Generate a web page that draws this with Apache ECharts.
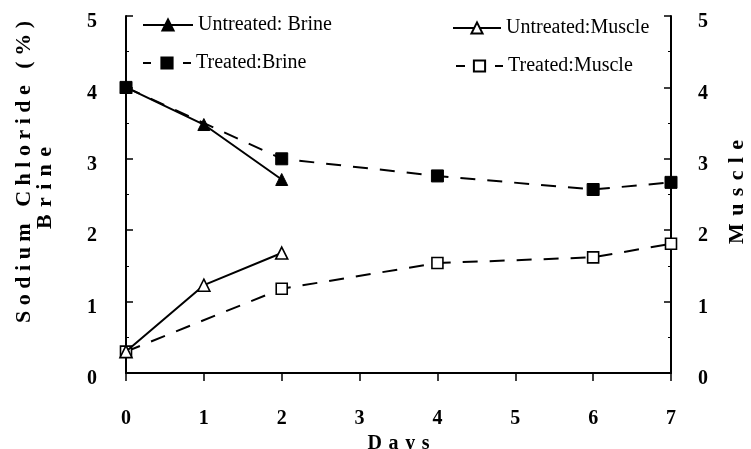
<!DOCTYPE html>
<html>
<head>
<meta charset="utf-8">
<script src="https://cdn.jsdelivr.net/npm/echarts@6/dist/echarts.min.js"></script>
<style>
  html, body { margin: 0; padding: 0; background: #fff; }
  #chart { width: 751px; height: 449px; }
</style>
</head>
<body>
<div id="chart"></div>
<script>
// Sampling days for each treatment
const untreatedDays = [0, 1, 2];
const treatedDays = [0, 2, 4, 6, 7];

// Sodium chloride content (%)
const untreatedBrine = [4.0, 3.48, 2.71];
const untreatedMuscle = [0.3, 1.23, 1.68];
const treatedBrine = [4.0, 3.0, 2.76, 2.57, 2.67];
const treatedMuscle = [0.3, 1.18, 1.54, 1.62, 1.81];

// Axis ranges
const dayRange = [0, 7];
const pctRange = [0, 5];

const SERIF = '"Liberation Serif", "Times New Roman", serif';
const INK = '#000';
const DASH = [15, 12];

// Widen a label by putting spacing between its letters
function spaced(text, gap, wordGap) {
  return text.split(' ').map(w => Array.from(w).join(gap)).join(wordGap);
}

function pairs(xs, ys) {
  return xs.map((x, i) => [x, ys[i]]);
}

const filled = { color: INK, borderColor: INK, borderWidth: 1 };
const hollow = { color: '#fff', borderColor: INK, borderWidth: 1.6 };

const chart = echarts.init(document.getElementById('chart'), null, { renderer: 'canvas' });

const legendText = { fontFamily: SERIF, fontSize: 20, color: INK };
function legendBox(name, left, top, width, extra) {
  return {
    show: true,
    left: left,
    top: top,
    padding: 0,
    itemWidth: width,
    itemHeight: 14,
    selectedMode: false,
    textStyle: legendText,
    data: [Object.assign({ name: name }, extra || {})]
  };
}

const axisLabelStyle = { fontFamily: SERIF, fontSize: 20, fontWeight: 'bold', color: INK };

function pctAxis(position, margin) {
  return {
    type: 'value',
    position: position,
    min: pctRange[0],
    max: pctRange[1],
    interval: 1,
    axisLine: { show: true, lineStyle: { color: INK, width: 2 } },
    axisTick: { show: true, inside: true, length: 7, lineStyle: { color: INK, width: 1.5 } },
    minorTick: { show: true, splitNumber: 2, length: 3, lineStyle: { color: INK, width: 1 } },
    // labels sit a little below their ticks
    axisLabel: Object.assign({ margin: margin, verticalAlign: 'top', lineHeight: 12 }, axisLabelStyle),
    splitLine: { show: false }
  };
}

const titleFont = { fontFamily: SERIF, fontSize: 22, fontWeight: 'bold', fill: INK, align: 'center', verticalAlign: 'middle' };

chart.setOption({
  animation: false,
  backgroundColor: '#fff',
  grid: { left: 126, right: 80, top: 16, bottom: 76, containLabel: false, outerBoundsMode: 'none' },
  legend: [
    legendBox('Untreated: Brine', 142, 15, 50),
    legendBox('Treated:Brine', 142, 53, 48, { lineStyle: { type: [8, 32] } }),
    legendBox('Untreated:Muscle', 452, 18, 48),
    legendBox('Treated:Muscle', 455, 56, 47, { lineStyle: { type: [9, 30] } })
  ],
  xAxis: {
    type: 'value',
    min: dayRange[0],
    max: dayRange[1],
    interval: 1,
    name: spaced('Days', '\u2004', ' '),
    nameLocation: 'middle',
    nameGap: 58,
    nameTextStyle: { fontFamily: SERIF, fontSize: 20, fontWeight: 'bold', color: INK },
    axisLine: { show: true, lineStyle: { color: INK, width: 2 } },
    axisTick: { show: true, inside: false, length: 8, lineStyle: { color: INK, width: 1.5 } },
    axisLabel: Object.assign({ margin: 36 }, axisLabelStyle),
    splitLine: { show: false }
  },
  yAxis: [pctAxis('left', 29), pctAxis('right', 27)],
  graphic: [
    {
      type: 'text', x: 24, y: 172, rotation: Math.PI / 2,
      style: Object.assign({ text: spaced('Sodium Chloride (%)', ' ', ' \u2002') }, titleFont)
    },
    {
      type: 'text', x: 45, y: 188, rotation: Math.PI / 2,
      style: Object.assign({ text: spaced('Brine', '\u2004', ' ') }, titleFont)
    },
    {
      type: 'text', x: 737, y: 192, rotation: Math.PI / 2,
      style: Object.assign({ text: spaced('Muscle', '\u2004', ' ') }, titleFont)
    }
  ],
  series: [
    {
      name: 'Untreated: Brine', type: 'line', yAxisIndex: 0,
      data: pairs(untreatedDays, untreatedBrine),
      symbol: 'triangle', symbolSize: 12,
      lineStyle: { color: INK, width: 2 },
      itemStyle: filled, z: 3
    },
    {
      name: 'Treated:Brine', type: 'line', yAxisIndex: 0,
      data: pairs(treatedDays, treatedBrine),
      symbol: 'rect', symbolSize: 12,
      lineStyle: { color: INK, width: 2, type: DASH },
      itemStyle: filled, z: 2
    },
    {
      name: 'Untreated:Muscle', type: 'line', yAxisIndex: 1,
      data: pairs(untreatedDays, untreatedMuscle),
      symbol: 'triangle', symbolSize: 12,
      lineStyle: { color: INK, width: 2 },
      itemStyle: hollow, z: 3
    },
    {
      name: 'Treated:Muscle', type: 'line', yAxisIndex: 1,
      data: pairs(treatedDays, treatedMuscle),
      symbol: 'rect', symbolSize: 11,
      lineStyle: { color: INK, width: 2, type: DASH },
      itemStyle: hollow, z: 2
    }
  ]
});
</script>
</body>
</html>
